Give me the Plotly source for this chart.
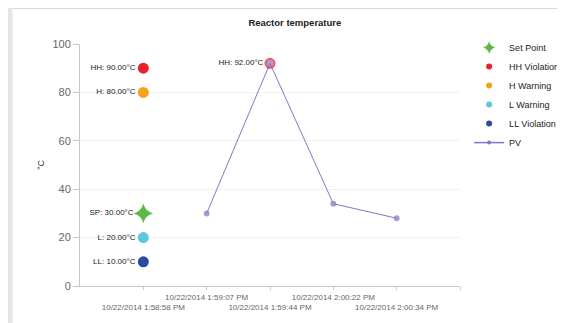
import plotly.graph_objects as go

# ---- data ----
time_labels = ["10/22/2014 1:58:58 PM", "10/22/2014 1:59:07 PM", "10/22/2014 1:59:44 PM",
               "10/22/2014 2:00:22 PM", "10/22/2014 2:00:34 PM"]
pv_values = [30, 92, 34, 28]
pv_labels = ["", "HH: 92.00°C", "", ""]
limit_names = ["Set Point", "HH Violation", "H Warning", "L Warning", "LL Violation"]
limit_values = [30, 90, 80, 20, 10]
limit_labels = ["SP: 30.00°C", "HH: 90.00°C", "H: 80.00°C", "L: 20.00°C", "LL: 10.00°C"]
y_ticks = [0, 20, 40, 60, 80, 100]

limit_colors = ["#5cb946", "#e8202a", "#f7a11a", "#5bc8dc", "#2d4b9e"]
limit_symbols = ["star-diamond", "circle", "circle", "circle", "circle"]
pv_color = "#8a73c2"

x_pos = list(range(1, len(time_labels) + 1))

fig = go.Figure()
for name, val, lab, col, sym in zip(limit_names, limit_values, limit_labels, limit_colors, limit_symbols):
    fig.add_trace(go.Scatter(
        x=[x_pos[0]], y=[val], mode="markers+text", name=name, showlegend=False,
        text=[lab], textposition="middle left",
        textfont=dict(size=8, color="#222222"),
        marker=dict(color=col, size=14 if sym != "circle" else 11, symbol=sym),
    ))

pv_line_colors = ["#e8202a" if l else pv_color for l in pv_labels]
pv_line_widths = [2.2 if l else 0 for l in pv_labels]
fig.add_trace(go.Scatter(
    x=x_pos[1:], y=pv_values, mode="lines+markers+text", name="PV", showlegend=False,
    text=pv_labels, textposition="middle left",
    textfont=dict(size=8, color="#222222"),
    line=dict(color=pv_color, width=1),
    marker=dict(color=pv_color, size=[6 if not l else 9 for l in pv_labels],
                line=dict(color=pv_line_colors, width=pv_line_widths)),
))

# legend entries (small swatches, no data drawn)
for name, col, sym in zip(limit_names, limit_colors, limit_symbols):
    fig.add_trace(go.Scatter(x=[None], y=[None], mode="markers", name=name,
                             marker=dict(color=col, size=9 if sym != "circle" else 6, symbol=sym)))
fig.add_trace(go.Scatter(x=[None], y=[None], mode="lines+markers", name="PV",
                         line=dict(color=pv_color, width=1.5), marker=dict(color=pv_color, size=4)))

# staggered tick labels
tick_text = []
for i, t in enumerate(time_labels):
    tick_text.append(" <br>" + t if i % 2 == 0 else t)
tick_vals = x_pos + [len(time_labels) + 1]
tick_text = tick_text + [""]

# page body has an 8px margin, so the figure is 8px smaller and shifted
fig.update_layout(
    width=557, height=315,
    margin=dict(l=72, r=105, t=36, b=37, autoexpand=False),
    paper_bgcolor="white", plot_bgcolor="white",
    font=dict(family="Liberation Sans, Arial, sans-serif", color="#333333"),
    title=dict(text="<b>Reactor temperature</b>", x=0.515, xanchor="center", y=0.955,
               yanchor="middle", font=dict(size=9.5, color="#222222")),
    showlegend=True,
    legend=dict(x=1.024, y=1.045, xanchor="left", yanchor="top", font=dict(size=9, color="#222222"),
                itemsizing="trace", tracegroupgap=0, itemwidth=30,
                bgcolor="rgba(0,0,0,0)"),
    xaxis=dict(range=[0, len(time_labels) + 1], tickvals=tick_vals, ticktext=tick_text,
               showgrid=False, zeroline=False, showline=True, linecolor="#c8c8c8", linewidth=1,
               ticks="outside", ticklen=3, tickcolor="#c8c8c8",
               tickfont=dict(size=8, color="#666666"), tickangle=0),
    yaxis=dict(range=[0, 100], tickvals=y_ticks, showgrid=True, gridcolor="#f0f0f0",
               zeroline=False, showline=True, linecolor="#c8c8c8", linewidth=1,
               ticks="outside", ticklen=6, tickcolor="#c8c8c8",
               tickfont=dict(size=11, color="#666666"),
               title=dict(text="°C", font=dict(size=9, color="#333333"), standoff=6)),
)

# decorative page frame (border of the panel)
px = lambda p: (p - 80) / 380.0
py = lambda p: (286 - p) / 242.0
fig.add_shape(type="rect", xref="paper", yref="paper", x0=px(8), x1=px(11), y0=py(323), y1=py(8),
              fillcolor="#e4e4e4", line=dict(width=0), layer="below")
fig.add_shape(type="line", xref="paper", yref="paper", x0=px(12), x1=px(12), y0=py(323), y1=py(8.5),
              line=dict(color="#d8d8d8", width=1))
fig.add_shape(type="line", xref="paper", yref="paper", x0=px(12), x1=px(565), y0=py(8.5), y1=py(8.5),
              line=dict(color="#d8d8d8", width=1))

fig.write_html("out.html")
